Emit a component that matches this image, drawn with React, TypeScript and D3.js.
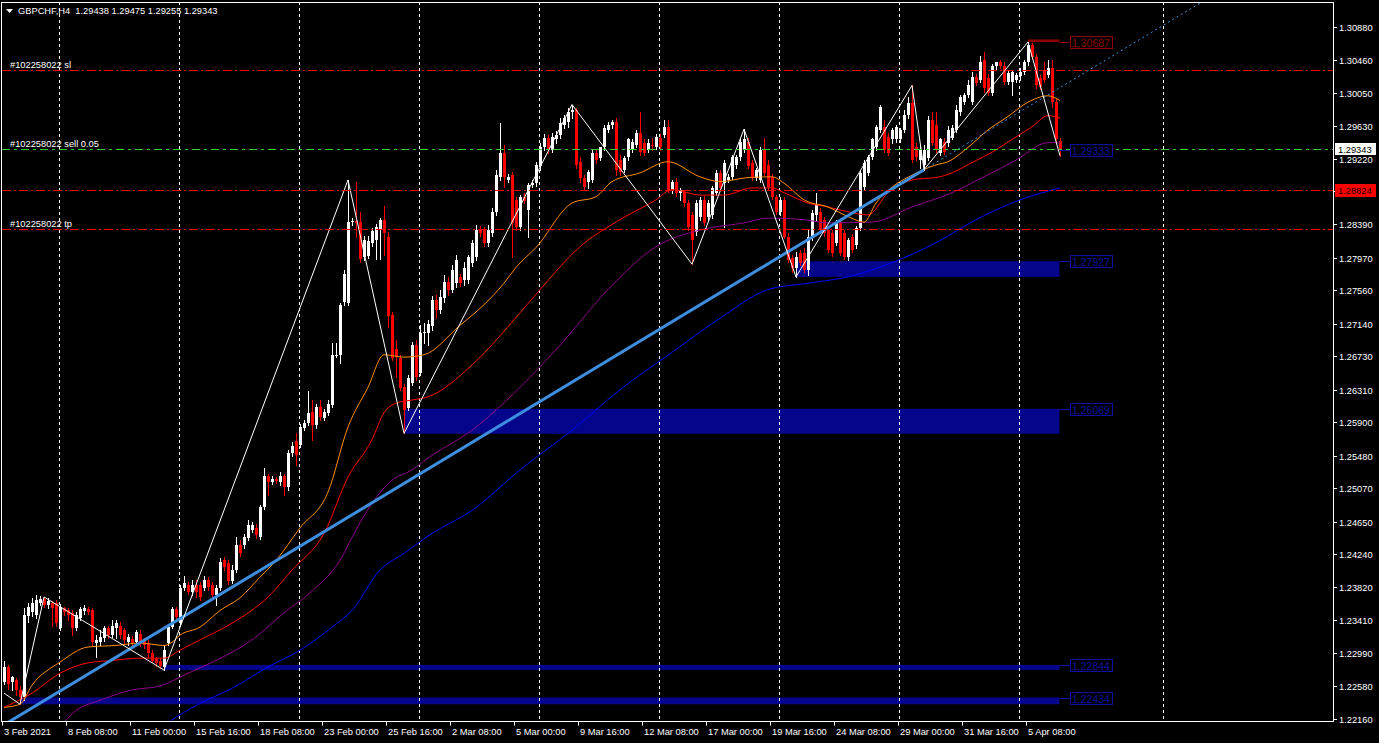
import React from "react";
import * as d3 from "d3";

const titleText = "GBPCHF,H4  1.29438 1.29475 1.29255 1.29343";

const opens = [
 1.2263,1.2282,1.2263,1.2265,1.2253,1.2244,1.2346,1.2351,1.2347,1.2362,
 1.2367,1.2360,1.2362,1.2362,1.2331,1.2356,1.2353,1.2350,1.2331,1.2343,
 1.2352,1.2355,1.2353,1.2312,1.2313,1.2318,1.2331,1.2322,1.2331,1.2334,
 1.2328,1.2313,1.2317,1.2313,1.2324,1.2316,1.2312,1.2299,1.2293,1.2290,
 1.2282,1.2312,1.2332,1.2355,1.2337,1.2381,1.2385,1.2376,1.2385,1.2385,
 1.2381,1.2391,1.2385,1.2372,1.2381,1.2416,1.2413,1.2390,1.2404,1.2435,
 1.2435,1.2444,1.2454,1.2457,1.2445,1.2483,1.2522,1.2515,1.2518,1.2515,
 1.2522,1.2508,1.2551,1.2566,1.2561,1.2583,1.2589,1.2603,1.2586,1.2609,
 1.2595,1.2602,1.2612,1.2673,1.2675,1.2741,1.2740,1.2842,1.2844,1.2842,
 1.2798,1.2799,1.2816,1.2820,1.2832,1.2845,1.2823,1.2725,1.2682,1.2671,
 1.2634,1.2608,1.2639,1.2687,1.2652,1.2702,1.2702,1.2711,1.2744,1.2731,
 1.2747,1.2767,1.2757,1.2765,1.2773,1.2769,1.2769,1.2791,1.2798,1.2832,
 1.2832,1.2816,1.2828,1.2855,1.2899,1.2929,1.2895,1.2901,1.2870,1.2836,
 1.2874,1.2857,1.2889,1.2891,1.2912,1.2936,1.2948,1.2933,1.2946,1.2952,
 1.2964,1.2968,1.2981,1.2983,1.2918,1.2898,1.2893,1.2895,1.2929,1.2923,
 1.2937,1.2958,1.2964,1.2968,1.2920,1.2908,1.2924,1.2933,1.2939,1.2954,
 1.2942,1.2933,1.2939,1.2937,1.2948,1.2952,1.2962,1.2883,1.2893,1.2879,
 1.2880,1.2866,1.2851,1.2830,1.2849,1.2870,1.2849,1.2851,1.2879,1.2904,
 1.2891,1.2895,1.2899,1.2914,1.2924,1.2933,1.2943,1.2917,1.2898,1.2895,
 1.2933,1.2914,1.2899,1.2874,1.2855,1.2870,1.2823,1.2797,1.2784,1.2803,
 1.2803,1.2782,1.2823,1.2851,1.2855,1.2845,1.2832,1.2828,1.2816,1.2841,
 1.2828,1.2798,1.2823,1.2813,1.2835,1.2886,1.2904,1.2924,1.2937,1.2958,
 1.2962,1.2949,1.2946,1.2946,1.2946,1.2958,1.2977,1.2992,1.2937,1.2920,
 1.2914,1.2923,1.2971,1.2964,1.2929,1.2943,1.2942,1.2948,1.2958,1.2981,
 1.2993,1.3002,1.2993,1.3025,1.3021,1.3046,1.3024,1.3005,1.3038,1.3043,
 1.3039,1.3019,1.3019,1.3021,1.3026,1.3031,1.3043,1.3065,1.3050,1.3024,
 1.3034,1.3027,1.3036,1.2993,1.29438];

const highs = [
 1.2290,1.2284,1.2270,1.2268,1.2258,1.2356,1.2362,1.2369,1.2372,1.2371,
 1.2370,1.2369,1.2365,1.2366,1.2361,1.2358,1.2356,1.2353,1.2351,1.2358,
 1.2360,1.2358,1.2356,1.2322,1.2328,1.2334,1.2334,1.2341,1.2341,1.2338,
 1.2331,1.2324,1.2321,1.2329,1.2328,1.2318,1.2316,1.2303,1.2295,1.2293,
 1.2309,1.2334,1.2358,1.2358,1.2385,1.2397,1.2389,1.2391,1.2391,1.2389,
 1.2396,1.2395,1.2389,1.2385,1.2419,1.2420,1.2416,1.2410,1.2445,1.2442,
 1.2449,1.2467,1.2464,1.2462,1.2486,1.2532,1.2525,1.2522,1.2521,1.2527,
 1.2525,1.2555,1.2565,1.2576,1.2588,1.2593,1.2629,1.2618,1.2613,1.2618,
 1.2607,1.2618,1.2690,1.2690,1.2740,1.2782,1.2895,1.2847,1.2893,1.2855,
 1.2825,1.2825,1.2835,1.2840,1.2847,1.2862,1.2830,1.2729,1.2694,1.2675,
 1.2638,1.2649,1.2691,1.2694,1.2712,1.2715,1.2719,1.2749,1.2750,1.2757,
 1.2775,1.2773,1.2788,1.2801,1.2777,1.2792,1.2801,1.2820,1.2838,1.2837,
 1.2836,1.2838,1.2860,1.2908,1.2967,1.2939,1.2903,1.2905,1.2874,1.2876,
 1.2879,1.2891,1.2895,1.2918,1.2942,1.2953,1.2952,1.2954,1.2957,1.2973,
 1.2977,1.2986,1.2990,1.2986,1.2924,1.2901,1.2908,1.2933,1.2933,1.2937,
 1.2964,1.2968,1.2971,1.2973,1.2927,1.2925,1.2948,1.2946,1.2958,1.2981,
 1.2946,1.2946,1.2948,1.2953,1.2953,1.2971,1.2971,1.2895,1.2898,1.2885,
 1.2883,1.2870,1.2855,1.2870,1.2874,1.2875,1.2870,1.2888,1.2908,1.2908,
 1.2920,1.2903,1.2927,1.2927,1.2946,1.2959,1.2948,1.2920,1.2910,1.2936,
 1.2948,1.2920,1.2903,1.2876,1.2874,1.2874,1.2828,1.2801,1.2804,1.2807,
 1.2810,1.2832,1.2857,1.2879,1.2860,1.2849,1.2837,1.2832,1.2845,1.2845,
 1.2832,1.2822,1.2827,1.2837,1.2908,1.2920,1.2927,1.2948,1.2964,1.2990,
 1.2971,1.2954,1.2961,1.2964,1.2961,1.2983,1.2999,1.3014,1.2942,1.2939,
 1.2939,1.2975,1.2981,1.2980,1.2948,1.2948,1.2963,1.2964,1.2990,1.3002,
 1.3005,1.3021,1.3031,1.3029,1.3051,1.3056,1.3029,1.3041,1.3044,1.3046,
 1.3044,1.3034,1.3034,1.3030,1.3036,1.3046,1.30687,1.3068,1.3054,1.3027,
 1.3044,1.3046,1.3046,1.2997,1.29475];

const lows = [
 1.2260,1.2254,1.2253,1.2246,1.2235,1.2240,1.2338,1.2346,1.2343,1.2360,
 1.2357,1.2356,1.2334,1.2333,1.2328,1.2347,1.2341,1.2322,1.2328,1.2341,
 1.2348,1.2348,1.2309,1.2294,1.2309,1.2314,1.2318,1.2319,1.2318,1.2318,
 1.2312,1.2309,1.2308,1.2309,1.2308,1.2306,1.2295,1.2288,1.2283,1.2280,
 1.2278,1.2309,1.2331,1.2342,1.2334,1.2379,1.2374,1.2372,1.2370,1.2366,
 1.2379,1.2379,1.2369,1.2360,1.2379,1.2404,1.2386,1.2387,1.2401,1.2421,
 1.2432,1.2442,1.2452,1.2444,1.2443,1.2481,1.2498,1.2512,1.2513,1.2511,
 1.2498,1.2505,1.2547,1.2536,1.2559,1.2580,1.2586,1.2568,1.2583,1.2593,
 1.2593,1.2599,1.2609,1.2672,1.2665,1.2738,1.2738,1.2838,1.2823,1.2792,
 1.2794,1.2797,1.2812,1.2796,1.2796,1.2801,1.2710,1.2668,1.2647,1.2631,
 1.2576,1.2605,1.2637,1.2643,1.2649,1.2690,1.2687,1.2706,1.2721,1.2728,
 1.2741,1.2750,1.2754,1.2760,1.2762,1.2763,1.2765,1.2787,1.2794,1.2825,
 1.2812,1.2812,1.2825,1.2851,1.2895,1.2886,1.2893,1.2798,1.2832,1.2832,
 1.2866,1.2823,1.2886,1.2888,1.2908,1.2933,1.2929,1.2930,1.2942,1.2948,
 1.2961,1.2962,1.2973,1.2910,1.2893,1.2883,1.2885,1.2893,1.2917,1.2920,
 1.2933,1.2956,1.2961,1.2901,1.2901,1.2905,1.2920,1.2930,1.2937,1.2927,
 1.2927,1.2930,1.2933,1.2934,1.2933,1.2949,1.2880,1.2878,1.2875,1.2870,
 1.2862,1.2832,1.2789,1.2826,1.2845,1.2838,1.2845,1.2847,1.2876,1.2883,
 1.2836,1.2893,1.2896,1.2910,1.2920,1.2930,1.2910,1.2895,1.2895,1.2893,
 1.2901,1.2883,1.2871,1.2852,1.2851,1.2822,1.2792,1.2779,1.2773,1.2788,
 1.2779,1.2775,1.2820,1.2845,1.2830,1.2825,1.2804,1.2799,1.2813,1.2801,
 1.2796,1.2794,1.2804,1.2810,1.2832,1.2883,1.2901,1.2922,1.2933,1.2956,
 1.2930,1.2927,1.2942,1.2943,1.2943,1.2956,1.2973,1.2918,1.2920,1.2910,
 1.2908,1.2920,1.2939,1.2930,1.2927,1.2928,1.2938,1.2946,1.2956,1.2977,
 1.2991,1.3000,1.2991,1.3015,1.3019,1.3006,1.3002,1.3002,1.3034,1.3036,
 1.3016,1.3016,1.3002,1.3019,1.3021,1.3029,1.3040,1.3049,1.3011,1.3009,
 1.3019,1.3025,1.2987,1.2943,1.29255];

const closes = [
 1.2282,1.2261,1.2269,1.2253,1.2244,1.2347,1.2358,1.2362,1.2366,1.2367,
 1.2360,1.2365,1.2356,1.2337,1.2357,1.2351,1.2347,1.2331,1.2347,1.2355,
 1.2356,1.2351,1.2313,1.2316,1.2319,1.2331,1.2322,1.2334,1.2337,1.2322,
 1.2316,1.2319,1.2312,1.2326,1.2312,1.2309,1.2299,1.2290,1.2287,1.2283,
 1.2303,1.2332,1.2355,1.2345,1.2381,1.2387,1.2376,1.2385,1.2376,1.2370,
 1.2391,1.2382,1.2372,1.2381,1.2414,1.2408,1.2390,1.2404,1.2435,1.2425,
 1.2445,1.2460,1.2460,1.2448,1.2483,1.2522,1.2515,1.2518,1.2516,1.2522,
 1.2508,1.2551,1.2560,1.2549,1.2584,1.2589,1.2602,1.2586,1.2609,1.2597,
 1.2603,1.2613,1.2675,1.2675,1.2738,1.2777,1.2842,1.2844,1.2841,1.2796,
 1.2820,1.2818,1.2831,1.2836,1.2845,1.2828,1.2724,1.2671,1.2672,1.2633,
 1.2605,1.2646,1.2687,1.2647,1.2702,1.2704,1.2714,1.2744,1.2731,1.2748,
 1.2767,1.2757,1.2782,1.2794,1.2765,1.2784,1.2798,1.2816,1.2832,1.2828,
 1.2816,1.2832,1.2855,1.2901,1.2929,1.2899,1.2899,1.2841,1.2836,1.2873,
 1.2869,1.2889,1.2891,1.2914,1.2937,1.2948,1.2933,1.2949,1.2952,1.2967,
 1.2973,1.2981,1.2983,1.2914,1.2898,1.2886,1.2905,1.2929,1.2920,1.2936,
 1.2961,1.2964,1.2968,1.2908,1.2905,1.2923,1.2946,1.2943,1.2954,1.2930,
 1.2929,1.2942,1.2938,1.2949,1.2936,1.2962,1.2883,1.2893,1.2879,1.2883,
 1.2866,1.2836,1.2820,1.2866,1.2870,1.2841,1.2866,1.2885,1.2904,1.2885,
 1.2917,1.2899,1.2924,1.2924,1.2943,1.2946,1.2912,1.2899,1.2908,1.2933,
 1.2904,1.2886,1.2874,1.2855,1.2870,1.2823,1.2794,1.2784,1.2798,1.2791,
 1.2782,1.2823,1.2854,1.2864,1.2832,1.2828,1.2807,1.2803,1.2841,1.2803,
 1.2798,1.2820,1.2807,1.2835,1.2904,1.2917,1.2924,1.2946,1.2962,1.2987,
 1.2933,1.2929,1.2958,1.2962,1.2958,1.2977,1.2992,1.2920,1.2924,1.2933,
 1.2933,1.2971,1.2942,1.2933,1.2946,1.2930,1.2958,1.2961,1.2983,1.2999,
 1.3002,1.3015,1.3025,1.3017,1.3044,1.3011,1.3005,1.3038,1.3043,1.3038,
 1.3019,1.3030,1.3031,1.3027,1.3031,1.3043,1.3065,1.3050,1.3015,1.3012,
 1.3021,1.3036,1.2993,1.2946,1.29343];

const priceTicks = [1.3088,1.3046,1.3005,1.2963,1.2922,1.2881,1.2839,1.2797,1.2756,1.2714,1.2673,1.2631,1.259,1.2548,1.2507,1.2465,1.2424,1.2382,1.2341,1.2299,1.2258,1.2216];

const timeLabels = ["3 Feb 2021","8 Feb 08:00","11 Feb 00:00","15 Feb 16:00","18 Feb 08:00","23 Feb 00:00","25 Feb 16:00","2 Mar 08:00","5 Mar 00:00","9 Mar 16:00","12 Mar 08:00","17 Mar 00:00","19 Mar 16:00","24 Mar 08:00","29 Mar 00:00","31 Mar 16:00","5 Apr 08:00"];
const timeLabelBars = [0,16,32,48,64,80,96,112,128,144,160,176,192,208,224,240,256];
const weekGridBars = [14,44,74,104,134,164,194,224,254,290];

const zigzag = [[0,1.2249],[4,1.2235],[10,1.2370],[40,1.2278],[86,1.2895],[100,1.2576],[142,1.2990],[172,1.2789],[185,1.2959],[198,1.2773],[227,1.3014],[230,1.2908],[256,1.30687],[264,1.29255]];

const maOrange = [[0,1.2231],[4,1.2235],[7,1.2259],[14,1.2288],[21,1.2307],[28,1.2309],[34,1.2312],[40,1.2309],[42,1.2313],[44,1.2322],[49,1.2332],[54,1.2353],[59,1.2369],[64,1.2395],[68,1.2416],[74,1.2457],[81,1.2502],[86,1.2584],[91,1.2634],[95,1.2675],[100,1.2672],[105,1.2675],[114,1.2712],[120,1.2738],[125,1.2765],[128,1.2785],[133,1.2810],[142,1.2866],[148,1.2874],[152,1.2893],[159,1.2904],[166,1.2918],[174,1.2899],[179,1.2893],[186,1.2898],[192,1.2899],[195,1.2891],[200,1.2870],[206,1.2861],[211,1.2849],[215,1.2842],[218,1.2866],[222,1.2886],[227,1.2901],[233,1.2914],[236,1.2918],[241,1.2936],[246,1.2958],[251,1.2975],[256,1.2993],[261,1.3001],[264,1.2995]];
const maRed = [[0,1.2231],[7,1.2249],[14,1.2274],[21,1.2287],[27,1.2290],[34,1.2293],[40,1.2293],[44,1.2303],[49,1.2316],[57,1.2337],[66,1.2370],[72,1.2404],[80,1.2450],[86,1.2521],[92,1.2568],[95,1.2602],[98,1.2614],[102,1.2618],[106,1.2622],[117,1.2662],[127,1.2716],[134,1.2757],[144,1.2811],[154,1.2845],[163,1.2870],[167,1.2883],[174,1.2876],[180,1.2876],[187,1.2885],[192,1.2885],[195,1.2879],[201,1.2866],[206,1.2861],[211,1.2855],[216,1.2851],[221,1.2879],[227,1.2895],[234,1.2899],[237,1.2904],[242,1.2917],[247,1.2930],[252,1.2946],[257,1.2962],[261,1.2976],[264,1.2973]];
const maPurple = [[9,1.2196],[14,1.2208],[18,1.2227],[24,1.2240],[32,1.2253],[39,1.2258],[46,1.2274],[53,1.2290],[62,1.2316],[70,1.2350],[78,1.2382],[84,1.2416],[87,1.2445],[92,1.2488],[97,1.2517],[102,1.2530],[106,1.2545],[117,1.2580],[127,1.2624],[139,1.2687],[151,1.2757],[163,1.2811],[174,1.2832],[185,1.2841],[191,1.2847],[200,1.2845],[206,1.2841],[217,1.2842],[227,1.2861],[237,1.2879],[245,1.2899],[253,1.2920],[261,1.2942],[264,1.2942]];
const maBlue = [[39,1.2205],[41,1.2212],[49,1.2236],[57,1.2255],[66,1.2282],[74,1.2303],[82,1.2332],[87,1.2353],[94,1.2404],[100,1.2425],[107,1.2450],[117,1.2479],[129,1.2530],[142,1.2580],[154,1.2631],[167,1.2678],[179,1.2721],[191,1.2757],[201,1.2765],[211,1.2773],[222,1.2791],[233,1.2816],[243,1.2845],[254,1.2870],[264,1.2885]];

const trendAnchors = [[0,1.2209],[230,1.2908]];
const trendRayEndBar = 300;

const zoneStartBars = [198,100,40,4];
const zoneTops = [1.27927,1.26069,1.22844,1.22434];
const zoneBottoms = [1.2773,1.25755,1.22781,1.22349];
const highZone = [256,1.3072,1.30687];
const extraLabelPrice = 1.29333;

const orderLabels = ["#102258022 sl","#102258022 sell 0.05","#102258022 tp"];
const orderPrices = [1.30331,1.29343,1.28329];
const alertPrice = 1.28824;
const lastPrice = 1.29343;

const FONT = "'Liberation Sans', Arial, sans-serif";

export default function App() {
  React.useEffect(() => {
    document.body.style.margin = "0";
    document.body.style.background = "#000";
  }, []);

  const lastBar = closes.length - 1;
  const x = d3.scaleLinear().domain([0, lastBar]).range([4, 1060]);
  const y = d3.scaleLinear().domain([1.2216, 1.3088]).range([719.3, 26.7]);
  const plotL = 2, plotR = 1333, plotT = 2, plotB = 721.5;
  const zoneRight = Math.round(x(lastBar)) - 0.5;

  const maLine = d3.line<number[]>().x(d => x(d[0])).y(d => y(d[1])).curve(d3.curveMonotoneX);
  const zzLine = d3.line<number[]>().x(d => x(d[0])).y(d => y(d[1]));

  const [a0, a1] = trendAnchors;
  const slope = (a1[1] - a0[1]) / (a1[0] - a0[0]);
  const rayEnd = [trendRayEndBar, a1[1] + slope * (trendRayEndBar - a1[0])];

  const fmt = (v: number) => v.toFixed(5);

  const boxLabel = (price: number, color: string, key: string) => {
    const yy = Math.round(y(price)) + 0.5;
    return (
      <g key={key}>
        <line x1={zoneRight} x2={1070} y1={yy} y2={yy} stroke={color} />
        <rect x={1070.5} y={yy - 6} width={42} height={12} fill="#000" stroke={color} />
        <text x={1072} y={yy + 4} fill={color} fontSize={10.5} fontFamily={FONT}>{fmt(price)}</text>
      </g>
    );
  };

  return (
    <svg width={1379} height={743} style={{ position: "absolute", left: 0, top: 0, display: "block" }}>
      <defs>
        <clipPath id="plotClip">
          <rect x={plotL} y={plotT} width={plotR - plotL} height={plotB - plotT} />
        </clipPath>
      </defs>
      <rect x={0} y={0} width={1379} height={743} fill="#000" />

      <g clipPath="url(#plotClip)">
        {/* zones */}
        {zoneStartBars.map((b, i) => (
          <rect key={"z" + i} x={Math.round(x(b))} y={y(zoneTops[i])} width={zoneRight - Math.round(x(b))}
            height={Math.max(3, y(zoneBottoms[i]) - y(zoneTops[i]))} fill="#05058c" />
        ))}
        <rect x={Math.round(x(highZone[0]))} y={y(highZone[1])} width={zoneRight - Math.round(x(highZone[0]))}
          height={y(highZone[2]) - y(highZone[1])} fill="#8b0000" />

        {/* weekly grid */}
        {weekGridBars.map((b, i) => (
          <line key={"g" + i} x1={Math.round(x(b)) - 0.5} x2={Math.round(x(b)) - 0.5} y1={plotT} y2={plotB}
            stroke="#fff" strokeDasharray="3,3" />
        ))}

        {/* candles */}
        {closes.map((c, i) => {
          const o = opens[i];
          const up = c >= o;
          const col = up ? "#ffffff" : "#ff0000";
          const cx = Math.round(x(i));
          const top = Math.round(y(Math.max(o, c)));
          const bot = Math.round(y(Math.min(o, c)));
          return (
            <g key={"c" + i}>
              <line x1={cx + 0.5} x2={cx + 0.5} y1={Math.round(y(highs[i]))} y2={Math.round(y(lows[i])) + 1} stroke={col} />
              <rect x={cx - 1} y={top} width={3} height={Math.max(1, bot - top)} fill={col} />
            </g>
          );
        })}

        {/* moving averages */}
        <path d={maBlue ? maLine(maBlue) || "" : ""} fill="none" stroke="#0000ff" strokeWidth={1} />
        <path d={maLine(maPurple) || ""} fill="none" stroke="#8b008b" strokeWidth={1} />
        <path d={maLine(maRed) || ""} fill="none" stroke="#ff0000" strokeWidth={1} />
        <path d={maLine(maOrange) || ""} fill="none" stroke="#ff8c00" strokeWidth={1} />

        {/* trendline */}
        <line x1={x(a0[0])} y1={y(a0[1])} x2={x(a1[0])} y2={y(a1[1])} stroke="#3d8ede" strokeWidth={3} />
        <line x1={x(a1[0])} y1={y(a1[1])} x2={x(rayEnd[0])} y2={y(rayEnd[1])} stroke="#3d8ede" strokeWidth={1} strokeDasharray="2,3" />

        {/* zigzag */}
        <path d={zzLine(zigzag) || ""} fill="none" stroke="#ffffff" strokeWidth={1} />

        {/* order lines */}
        {orderPrices.map((p, i) => {
          const yy = Math.round(y(p)) + 0.5;
          const isEntry = i === 1;
          return (
            <line key={"o" + i} x1={plotL} x2={plotR} y1={yy} y2={yy}
              stroke={isEntry ? "#32cd32" : "#ff0000"} strokeDasharray={isEntry ? "8,4,3,4" : "9,3,2,3"} />
          );
        })}
        <line x1={plotL} x2={plotR} y1={Math.round(y(alertPrice)) + 0.5} y2={Math.round(y(alertPrice)) + 0.5}
          stroke="#ff0000" strokeDasharray="9,3,2,3" />
      </g>

      {/* order labels */}
      {orderLabels.map((t, i) => (
        <text key={"ol" + i} x={10} y={Math.round(y(orderPrices[i])) - 2} fill="#ffffff" fontSize={9.3} fontFamily={FONT}>{t}</text>
      ))}

      {/* zone labels */}
      {zoneTops.map((p, i) => boxLabel(p, "#1010a0", "zl" + i))}
      {boxLabel(extraLabelPrice, "#1010a0", "extra")}
      {boxLabel(highZone[2], "#8b0000", "hz")}

      {/* frame */}
      <rect x={plotL - 0.5} y={plotT + 0.5} width={plotR - plotL + 1} height={plotB - plotT - 0.5} fill="none" stroke="#ffffff" />

      {/* price axis */}
      {priceTicks.map((p, i) => {
        const yy = Math.round(y(p)) + 0.5;
        return (
          <g key={"pt" + i}>
            <line x1={plotR + 0.5} x2={plotR + 4} y1={yy} y2={yy} stroke="#fff" />
            <text x={1339} y={yy + 3.5} fill="#ffffff" fontSize={9.3} fontFamily={FONT}>{fmt(p)}</text>
          </g>
        );
      })}
      <rect x={1335} y={Math.round(y(alertPrice)) - 6} width={41} height={13} fill="#ff0000" />
      <text x={1338} y={Math.round(y(alertPrice)) + 4} fill="#1a0000" fontSize={9.3} fontFamily={FONT}>{fmt(alertPrice)}</text>
      <rect x={1335} y={Math.round(y(lastPrice)) - 6} width={41} height={12} fill="#ffffff" />
      <text x={1338} y={Math.round(y(lastPrice)) + 4} fill="#000000" fontSize={9.3} fontFamily={FONT}>{fmt(lastPrice)}</text>

      {/* time axis */}
      {timeLabelBars.map((b, i) => {
        const tx = Math.round(x(b));
        return (
          <g key={"tl" + i}>
            <line x1={tx - 1.5} x2={tx - 1.5} y1={plotB} y2={plotB + 4} stroke="#fff" />
            <text x={tx} y={735} fill="#ffffff" fontSize={9.3} fontFamily={FONT}>{timeLabels[i]}</text>
          </g>
        );
      })}

      {/* title */}
      <polygon points="6,9 13,9 9.5,13" fill="#ffffff" />
      <text x={18} y={14} fill="#ffffff" fontSize={9.3} fontFamily={FONT} style={{ whiteSpace: "pre" }}>{titleText}</text>
    </svg>
  );
}
